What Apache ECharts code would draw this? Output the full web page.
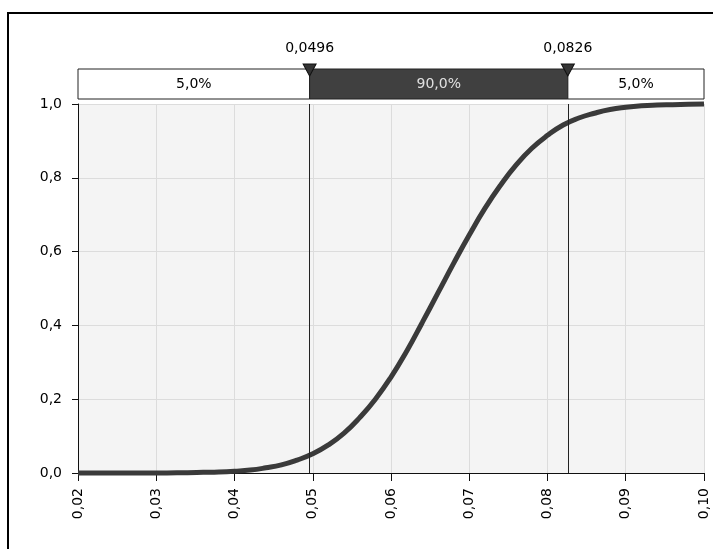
<!DOCTYPE html>
<html><head><meta charset="utf-8">
<script src="https://cdn.jsdelivr.net/npm/echarts@6/dist/echarts.min.js"></script>
<style>html,body{margin:0;padding:0;background:#fff}#c{width:713px;height:549px}</style>
</head><body><div id="c"></div>
<script>
// Data
const xValues = [0.020,0.030,0.034,0.036,0.038,0.040,0.042,0.044,0.046,0.048,0.050,0.052,0.054,0.056,0.058,0.060,0.062,0.064,0.066,0.068,0.070,0.072,0.074,0.076,0.078,0.080,0.082,0.084,0.086,0.088,0.090,0.092,0.094,0.096,0.098,0.100];
const cdfValues = [0.000,0.000,0.001,0.002,0.003,0.005,0.008,0.014,0.022,0.035,0.052,0.076,0.108,0.150,0.200,0.260,0.330,0.408,0.488,0.568,0.645,0.717,0.780,0.835,0.880,0.915,0.943,0.962,0.975,0.985,0.991,0.995,0.997,0.998,0.999,1.000];
const lowCut = 0.0496;
const highCut = 0.0826;
const cutLabels = ['0,0496','0,0826'];
const bandLabels = ['5,0%','90,0%','5,0%'];
const xMin = 0.02, xMax = 0.10, xStep = 0.01;
const yMin = 0, yMax = 1, yStep = 0.2;

const font = 'DejaVu Sans';
const fs = 14;
const comma = (v, d) => v.toFixed(d).replace('.', ',');

const chart = echarts.init(document.getElementById('c'), null, {renderer:'canvas'});
chart.setOption({
  animation: false,
  backgroundColor: '#fff',
  graphic: [{type:'rect', shape:{x:8,y:13,width:740,height:580}, style:{fill:'none', stroke:'#000', lineWidth:2}, silent:true}],
  grid: [
    {left:78, right:9, top:104, bottom:76, show:true, backgroundColor:'#f4f4f4', borderWidth:0},
    {left:78, right:9, top:69, height:30, show:false}
  ],
  xAxis: [
    {type:'value', gridIndex:0, min:xMin, max:xMax, interval:xStep,
     axisLine:{show:true, onZero:false, lineStyle:{color:'#111', width:1}},
     axisTick:{show:true, length:8, lineStyle:{color:'#111'}},
     splitLine:{show:true, lineStyle:{color:'#dcdcdc'}},
     axisLabel:{rotate:90, margin:15, color:'#000', fontFamily:font, fontSize:fs, formatter:v=>comma(v,2)}},
    {type:'value', gridIndex:1, min:xMin, max:xMax, show:false}
  ],
  yAxis: [
    {type:'value', gridIndex:0, min:yMin, max:yMax, interval:yStep,
     axisLine:{show:true, lineStyle:{color:'#111', width:1}},
     axisTick:{show:true, length:6, lineStyle:{color:'#111'}},
     splitLine:{show:true, lineStyle:{color:'#dcdcdc'}},
     axisLabel:{margin:16, color:'#000', fontFamily:font, fontSize:fs, formatter:v=>comma(v,1)}},
    {type:'value', gridIndex:1, min:0, max:1, show:false}
  ],
  series: [
    {type:'line', xAxisIndex:0, yAxisIndex:0, data:xValues.map((x,i)=>[x,cdfValues[i]]),
     smooth:true, showSymbol:false, clip:false, lineStyle:{color:'#3a3a3a', width:5}, z:3,
     markLine:{silent:true, symbol:'none', precision:4, label:{show:false}, lineStyle:{color:'#222', width:1, type:'solid'},
       data:[{xAxis:lowCut},{xAxis:highCut}]}},
    {type:'line', xAxisIndex:1, yAxisIndex:1, data:[], z:2,
     markArea:{silent:true, precision:4, data:[
       [{xAxis:xMin, yAxis:0, itemStyle:{color:'#fff', borderColor:'#222', borderWidth:1},
         label:{show:true, position:'inside', formatter:bandLabels[0], color:'#000', fontFamily:font, fontSize:fs}}, {xAxis:lowCut, yAxis:1}],
       [{xAxis:lowCut, yAxis:0, itemStyle:{color:'#404040', borderColor:'#222', borderWidth:1},
         label:{show:true, position:'inside', formatter:bandLabels[1], color:'#e0e0e0', fontFamily:font, fontSize:fs}}, {xAxis:highCut, yAxis:1}],
       [{xAxis:highCut, yAxis:0, itemStyle:{color:'#fff', borderColor:'#222', borderWidth:1},
         label:{show:true, position:'inside', formatter:bandLabels[2], color:'#000', fontFamily:font, fontSize:fs}}, {xAxis:xMax, yAxis:1}]
     ]}},
    {type:'scatter', xAxisIndex:1, yAxisIndex:1, data:[[lowCut,1],[highCut,1]],
     symbol:'triangle', symbolRotate:180, symbolSize:[13,12], symbolOffset:[0,1], clip:false, z:10, zlevel:1,
     itemStyle:{color:'#333', borderColor:'#111', borderWidth:1, opacity:1},
     label:{show:true, position:'top', distance:8, color:'#000', fontFamily:font, fontSize:fs,
       formatter:p=>cutLabels[p.dataIndex]}}
  ]
});
</script></body></html>
